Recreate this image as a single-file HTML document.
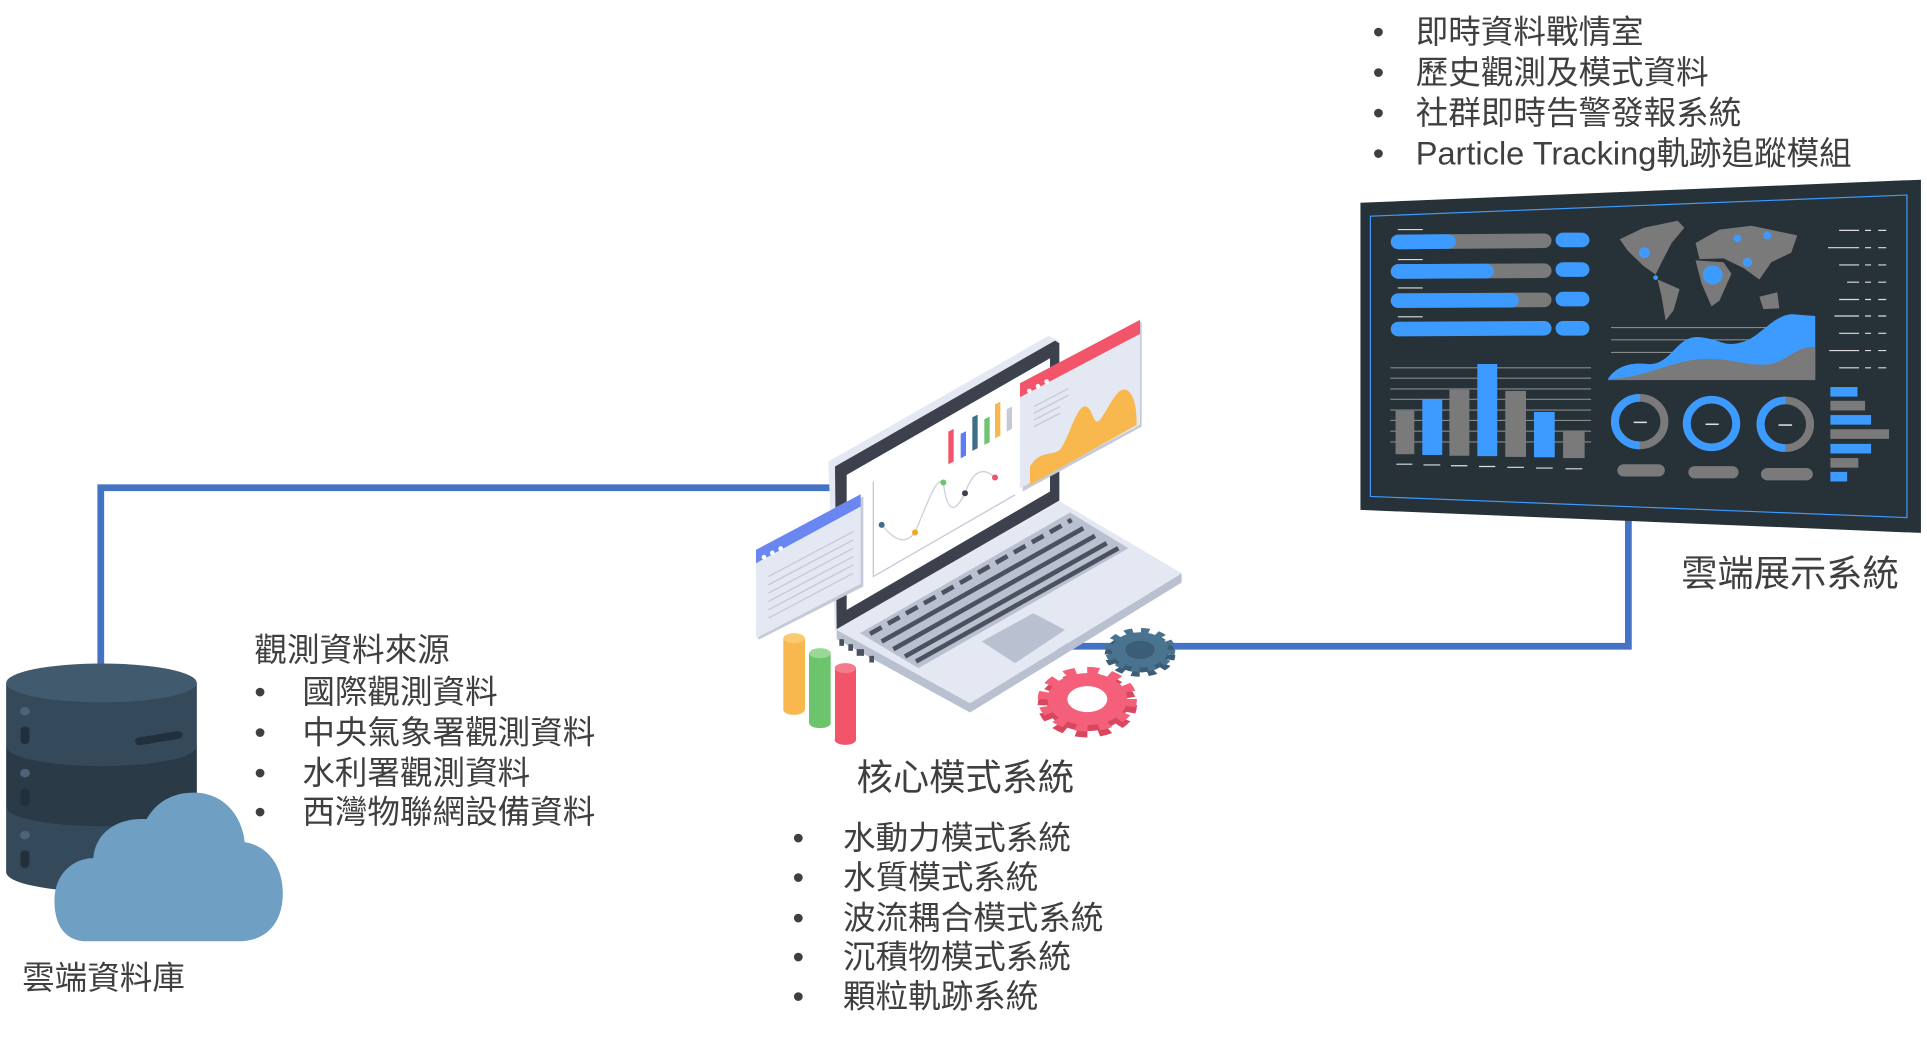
<!DOCTYPE html>
<html><head><meta charset="utf-8"><style>
html,body{margin:0;padding:0;background:#fff;width:1927px;height:1037px;overflow:hidden}
svg{display:block}
text{font-family:"Liberation Sans","Noto Sans CJK TC",sans-serif;fill:#3f3f3f}
</style></head><body>
<svg width="1927" height="1037" viewBox="0 0 1568 844" preserveAspectRatio="none" xmlns="http://www.w3.org/2000/svg">
<!-- connectors -->
<polyline points="82,540 82,397 700,397" fill="none" stroke="#4472c4" stroke-width="5.5"/>
<polyline points="860,526 1325,526 1325,420" fill="none" stroke="#4472c4" stroke-width="5.5"/>

<!-- database -->
<g transform="translate(5,540) scale(0.333,0.288) translate(-12,-600)">
<path d="M12,1005 H478 V1190 A233,55 0 0 1 12,1190 Z" fill="#34495a"/>
<path d="M12,835 H478 V1005 A233,55 0 0 1 12,1005 Z" fill="#2b3a47"/>
<path d="M12,655 H478 V835 A233,55 0 0 1 12,835 Z" fill="#34495a"/>
<ellipse cx="245" cy="655" rx="233" ry="55" fill="#415a6e"/>
<circle cx="58" cy="735" r="12" fill="#4d6478"/><circle cx="58" cy="910" r="12" fill="#4d6478"/><circle cx="58" cy="1085" r="12" fill="#4d6478"/>
<rect x="47" y="778" width="22" height="50" rx="11" fill="#22303b"/><rect x="47" y="953" width="22" height="50" rx="11" fill="#22303b"/><rect x="47" y="1128" width="22" height="50" rx="11" fill="#22303b"/>
<line x1="338" y1="820" x2="432" y2="802" stroke="#22303b" stroke-width="22" stroke-linecap="round"/>
<path d="M210,1385 C150,1385 130,1330 130,1270 C130,1190 180,1150 225,1150 C230,1080 280,1035 355,1040 C380,990 420,965 470,965 C550,965 590,1040 595,1105 C650,1115 688,1170 688,1250 C688,1330 650,1385 580,1385 Z" fill="#6f9fc3"/>
</g>

<!-- laptop -->
<g transform="scale(0.8137) translate(740,310) scale(0.33333)">
<polygon points="265,455 925,78 958,92 958,575 285,965" fill="#e4e8f2"/>
<polygon points="285,470 945,92 958,100 958,572 290,958" fill="#3d414d"/>
<polygon points="320,495 930,145 930,545 320,900" fill="#ffffff"/>
<polyline points="400,515 400,800 825,555" fill="none" stroke="#c5cad6" stroke-width="4"/>
<path d="M425,645 C470,700 500,700 525,668 C570,560 590,500 610,518 C620,600 640,620 675,550 C700,480 730,470 765,503" fill="none" stroke="#ccd1dc" stroke-width="4"/>
<circle cx="425" cy="645" r="9" fill="#3f6e85"/><circle cx="525" cy="668" r="9" fill="#f5a623"/><circle cx="610" cy="518" r="9" fill="#6cc56c"/><circle cx="675" cy="550" r="9" fill="#3d414d"/><circle cx="765" cy="503" r="9" fill="#f2546a"/>
<polygon points="625,365 641,357 641,455 625,463" fill="#f2546a"/>
<polygon points="662,372 678,364 678,437 662,445" fill="#5c7cf0"/>
<polygon points="697,322 713,314 713,415 697,423" fill="#3f6e85"/>
<polygon points="733,328 749,320 749,397 733,405" fill="#6cc56c"/>
<polygon points="765,283 781,275 781,377 765,385" fill="#f8b84e"/>
<polygon points="800,298 816,290 816,357 800,365" fill="#c5cad6"/>
<!-- base -->
<polygon points="290,960 690,1180 1325,790 1325,818 690,1208 290,988" fill="#b9c0cf"/>
<polygon points="290,960 960,575 1325,790 690,1180" fill="#e4e8f2"/>
<polygon points="360,970 990,608 1165,715 535,1075" fill="#b9c0cf"/>
<g stroke="#4c515e" stroke-width="14">
<line x1="390" y1="972" x2="995" y2="630" stroke-dasharray="40,22"/>
<line x1="425" y1="995" x2="1030" y2="655"/>
<line x1="460" y1="1018" x2="1065" y2="678"/>
<line x1="495" y1="1040" x2="1100" y2="700"/>
<line x1="528" y1="1055" x2="1135" y2="715"/>
</g>
<polygon points="725,995 880,910 975,960 825,1060" fill="#b9c0cf"/>
<g fill="#4c515e"><rect x="298" y="988" width="14" height="20"/><rect x="325" y="1003" width="14" height="20"/><rect x="350" y="1018" width="22" height="20"/><rect x="388" y="1038" width="14" height="20"/></g>
<!-- red window -->
<polygon points="848,225 1205,35 1205,350 848,545" fill="#c5cad6"/>
<polygon points="840,220 1200,30 1200,345 840,535" fill="#e4e8f2"/>
<polygon points="840,220 1200,30 1200,72 840,262" fill="#f2546a"/>
<circle cx="868" cy="243" r="7" fill="#fff"/><circle cx="894" cy="229" r="7" fill="#fff"/><circle cx="920" cy="215" r="7" fill="#fff"/>
<g stroke="#c5cad6" stroke-width="4"><line x1="882" y1="290" x2="985" y2="236"/><line x1="882" y1="310" x2="985" y2="256"/><line x1="882" y1="330" x2="960" y2="290"/><line x1="882" y1="350" x2="960" y2="310"/></g>
<path d="M870,525 L870,470 C900,420 930,440 960,420 C990,380 1010,280 1040,290 C1060,300 1060,350 1080,330 C1110,290 1130,230 1160,240 C1185,255 1190,300 1190,345 Z" fill="#f8b84e"/>
<!-- blue window -->
<polygon points="55,725 370,560 370,830 55,990" fill="#c5cad6"/>
<polygon points="48,720 362,553 362,822 48,985" fill="#e4e8f2"/>
<polygon points="48,720 362,553 362,590 48,760" fill="#6a86f0"/>
<circle cx="72" cy="742" r="7" fill="#fff"/><circle cx="97" cy="729" r="7" fill="#fff"/><circle cx="122" cy="716" r="7" fill="#fff"/>
<g stroke="#c5cad6" stroke-width="4"><line x1="85" y1="800" x2="340" y2="665"/><line x1="85" y1="825" x2="340" y2="690"/><line x1="85" y1="850" x2="340" y2="715"/><line x1="85" y1="875" x2="340" y2="740"/><line x1="85" y1="900" x2="340" y2="765"/><line x1="85" y1="925" x2="340" y2="790"/></g>
<!-- cylinders -->
<rect x="130" y="985" width="65" height="215" fill="#f8b84e"/><ellipse cx="162" cy="1200" rx="32" ry="15" fill="#f8b84e"/><ellipse cx="162" cy="985" rx="32" ry="15" fill="#f9ca72"/>
<rect x="207" y="1030" width="65" height="210" fill="#6cc56c"/><ellipse cx="240" cy="1240" rx="32" ry="15" fill="#6cc56c"/><ellipse cx="240" cy="1030" rx="32" ry="15" fill="#9ad896"/>
<rect x="285" y="1075" width="63" height="215" fill="#f2546a"/><ellipse cx="316" cy="1290" rx="32" ry="15" fill="#f2546a"/><ellipse cx="316" cy="1075" rx="32" ry="15" fill="#f57a8b"/>
<!-- gears -->
<g transform="translate(1200,1035) scale(1,0.62)"><circle r="85" fill="#3b5d75"/><circle r="95" fill="none" stroke="#3b5d75" stroke-width="22" stroke-dasharray="25,25"/></g>
<g transform="translate(1200,1020) scale(1,0.62)"><circle r="85" fill="#4a7390"/><circle r="95" fill="none" stroke="#4a7390" stroke-width="22" stroke-dasharray="25,25"/><circle r="44" fill="#3b5d75"/></g>
<g transform="translate(1042,1186) scale(1,0.65)"><circle r="120" fill="#d9475e"/><circle r="134" fill="none" stroke="#d9475e" stroke-width="30" stroke-dasharray="35,35"/></g>
<g transform="translate(1042,1168) scale(1,0.65)"><circle r="120" fill="#f4607a"/><circle r="134" fill="none" stroke="#f4607a" stroke-width="30" stroke-dasharray="35,35"/><circle r="60" fill="#fff"/></g>
</g>

<!-- monitor -->
<g transform="translate(1107,165) scale(0.3246,0.3125) translate(-150,-535)">
<polygon points="150,535 1555,475 1555,1395 150,1335" fill="#263238"/>
<polygon points="175,570 1520,515 1520,1355 175,1300" fill="none" stroke="#3d9bff" stroke-width="3"/>
<g stroke-linecap="round">
<g stroke="#dddddd" stroke-width="3"><line x1="245" y1="605" x2="305" y2="605"/><line x1="245" y1="683" x2="305" y2="683"/><line x1="245" y1="757" x2="305" y2="757"/><line x1="245" y1="832" x2="305" y2="832"/></g>
<g stroke-width="38">
<line x1="245" y1="637" x2="610" y2="634" stroke="#7a7a7a"/><line x1="245" y1="637" x2="370" y2="636" stroke="#3d9bff"/>
<line x1="245" y1="714" x2="610" y2="712" stroke="#7a7a7a"/><line x1="245" y1="714" x2="465" y2="713" stroke="#3d9bff"/>
<line x1="245" y1="790" x2="610" y2="788" stroke="#7a7a7a"/><line x1="245" y1="790" x2="528" y2="789" stroke="#3d9bff"/>
<line x1="245" y1="864" x2="610" y2="862" stroke="#3d9bff"/>
<line x1="658" y1="632" x2="705" y2="632" stroke="#3d9bff"/><line x1="658" y1="709" x2="705" y2="709" stroke="#3d9bff"/><line x1="658" y1="786" x2="705" y2="786" stroke="#3d9bff"/><line x1="658" y1="862" x2="705" y2="862" stroke="#3d9bff"/>
</g></g>
<g stroke="#8a8a8a" stroke-width="3"><line x1="225" y1="965" x2="728" y2="965"/><line x1="225" y1="992" x2="728" y2="992"/><line x1="225" y1="1020" x2="728" y2="1020"/><line x1="225" y1="1047" x2="728" y2="1047"/><line x1="225" y1="1075" x2="728" y2="1075"/><line x1="225" y1="1102" x2="728" y2="1102"/><line x1="225" y1="1130" x2="728" y2="1130"/><line x1="225" y1="1158" x2="728" y2="1158"/></g>
<rect x="238" y="1077" width="47" height="113" fill="#7a7a7a"/>
<rect x="305" y="1047" width="50" height="145" fill="#3d9bff"/>
<rect x="373" y="1022" width="50" height="172" fill="#7a7a7a"/>
<rect x="443" y="955" width="50" height="240" fill="#3d9bff"/>
<rect x="513" y="1025" width="52" height="172" fill="#7a7a7a"/>
<rect x="585" y="1080" width="52" height="118" fill="#3d9bff"/>
<rect x="658" y="1128" width="54" height="72" fill="#7a7a7a"/>
<g stroke="#dddddd" stroke-width="3"><line x1="240" y1="1216" x2="280" y2="1216"/><line x1="308" y1="1218" x2="350" y2="1218"/><line x1="377" y1="1220" x2="418" y2="1220"/><line x1="447" y1="1222" x2="488" y2="1222"/><line x1="518" y1="1224" x2="560" y2="1224"/><line x1="590" y1="1226" x2="632" y2="1226"/><line x1="664" y1="1228" x2="706" y2="1228"/></g>
<!-- map -->
<g fill="#7a7a7a">
<polygon points="800,630 860,600 945,582 962,600 930,640 905,690 890,722 860,700 820,660"/>
<polygon points="895,735 950,760 935,815 915,842 905,780"/>
<polygon points="990,640 1050,605 1130,595 1245,620 1230,665 1180,690 1150,735 1110,705 1060,680 1000,682"/>
<polygon points="990,685 1060,690 1080,720 1050,790 1030,805 1005,745"/>
<polygon points="1150,780 1195,768 1200,810 1160,812"/>
</g>
<g fill="#3d9bff"><circle cx="862" cy="665" r="14"/><circle cx="1095" cy="628" r="10"/><circle cx="1170" cy="620" r="10"/><circle cx="1120" cy="690" r="12"/><circle cx="1033" cy="723" r="25"/><circle cx="890" cy="730" r="6"/></g>
<g stroke="#8a8a8a" stroke-width="3"><line x1="778" y1="860" x2="1175" y2="860"/><line x1="778" y1="892" x2="1175" y2="892"/><line x1="778" y1="925" x2="1175" y2="925"/></g>
<path d="M770,995 C790,960 830,950 870,955 C930,960 940,880 1000,885 C1050,890 1060,910 1100,900 C1150,890 1180,830 1230,825 L1290,830 L1290,995 Z" fill="#3d9bff"/>
<path d="M770,995 C860,990 900,960 980,945 C1060,930 1120,965 1180,955 C1230,940 1240,910 1290,910 L1290,997 L770,997 Z" fill="#7a7a7a"/>
<!-- donuts -->
<g fill="none" stroke-width="20">
<circle cx="850" cy="1105" r="62" stroke="#7a7a7a"/><circle cx="850" cy="1105" r="62" stroke="#3d9bff" stroke-dasharray="195,400" transform="rotate(90 850 1105)"/>
<circle cx="1030" cy="1110" r="62" stroke="#3d9bff"/>
<circle cx="1215" cy="1112" r="62" stroke="#7a7a7a"/><circle cx="1215" cy="1112" r="62" stroke="#3d9bff" stroke-dasharray="195,400" transform="rotate(90 1215 1112)"/>
</g>
<g stroke="#dddddd" stroke-width="4"><line x1="835" y1="1107" x2="868" y2="1107"/><line x1="1015" y1="1112" x2="1048" y2="1112"/><line x1="1198" y1="1114" x2="1232" y2="1114"/></g>
<g stroke="#7a7a7a" stroke-width="32" stroke-linecap="round"><line x1="810" y1="1232" x2="897" y2="1232"/><line x1="988" y1="1237" x2="1082" y2="1237"/><line x1="1170" y1="1242" x2="1268" y2="1242"/></g>
<!-- right dashes -->
<g stroke="#dddddd" stroke-width="3">
<path d="M1350,607h50M1415,607h15M1448,607h20 M1322,652h78M1415,652h15M1448,652h20 M1350,697h50M1415,697h15M1448,697h20 M1370,742h30M1415,742h15M1448,742h20 M1350,787h50M1415,787h15M1448,787h20 M1338,830h62M1415,830h15M1448,830h20 M1350,875h50M1415,875h15M1448,875h20 M1325,920h75M1415,920h15M1448,920h20 M1350,965h50M1415,965h15M1448,965h20"/>
</g>
<rect x="1328" y="1015" width="68" height="25" fill="#3d9bff"/>
<rect x="1328" y="1051" width="87" height="25" fill="#7a7a7a"/>
<rect x="1328" y="1088" width="102" height="25" fill="#3d9bff"/>
<rect x="1328" y="1125" width="147" height="25" fill="#7a7a7a"/>
<rect x="1328" y="1163" width="102" height="25" fill="#3d9bff"/>
<rect x="1328" y="1200" width="70" height="25" fill="#7a7a7a"/>
<rect x="1328" y="1236" width="42" height="25" fill="#3d9bff"/>
</g>

<!-- text -->
<g font-size="26.5">
<text x="1117" y="35">•</text><text x="1152" y="35">即時資料戰情室</text>
<text x="1117" y="68">•</text><text x="1152" y="68">歷史觀測及模式資料</text>
<text x="1117" y="101">•</text><text x="1152" y="101">社群即時告警發報系統</text>
<text x="1117" y="134">•</text><text x="1152" y="134">Particle Tracking軌跡追蹤模組</text>

<text x="207" y="538">觀測資料來源</text>
<text x="207" y="572">•</text><text x="246" y="572">國際觀測資料</text>
<text x="207" y="605">•</text><text x="246" y="605">中央氣象署觀測資料</text>
<text x="207" y="638">•</text><text x="246" y="638">水利署觀測資料</text>
<text x="207" y="670">•</text><text x="246" y="670">西灣物聯網設備資料</text>

<text x="645" y="691">•</text><text x="686" y="691">水動力模式系統</text>
<text x="645" y="723">•</text><text x="686" y="723">水質模式系統</text>
<text x="645" y="756">•</text><text x="686" y="756">波流耦合模式系統</text>
<text x="645" y="788">•</text><text x="686" y="788">沉積物模式系統</text>
<text x="645" y="820">•</text><text x="686" y="820">顆粒軌跡系統</text>

<text x="18" y="805">雲端資料庫</text>
</g>
<text x="697" y="643" font-size="29.5">核心模式系統</text>
<text x="1368" y="477" font-size="29.5">雲端展示系統</text>
</svg>
</body></html>
